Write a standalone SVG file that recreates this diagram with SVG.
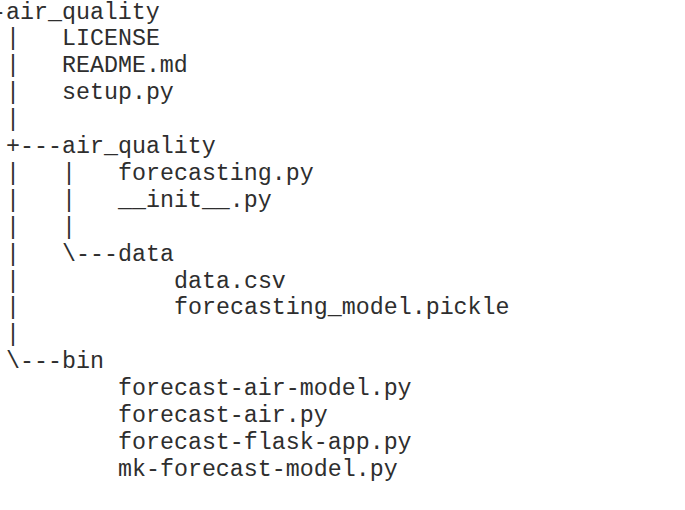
<svg xmlns="http://www.w3.org/2000/svg" width="685" height="510" viewBox="0 0 685 510">
  <style>
    text { font-family: "Liberation Mono", "Courier New", monospace; font-size: 23.3px; fill: #2e2e2e; white-space: pre; }
  </style>
  <rect width="685" height="510" fill="#ffffff"/>

  <!-- tree branches: pipes, tees and corners (column width 14px, column 0 at x=6) -->
  <g id="connectors">
    <text x="-8" y="18.5">-</text>
    <text x="6" y="45.4">|</text>
    <text x="6" y="72.3">|</text>
    <text x="6" y="99.2">|</text>
    <text x="6" y="126.1">|</text>
    <text x="6" y="153">+---</text>
    <text x="6" y="179.9">|</text>
    <text x="62" y="179.9">|</text>
    <text x="6" y="206.8">|</text>
    <text x="62" y="206.8">|</text>
    <text x="6" y="233.7">|</text>
    <text x="62" y="233.7">|</text>
    <text x="6" y="260.6">|</text>
    <text x="62" y="260.6">\---</text>
    <text x="6" y="287.5">|</text>
    <text x="6" y="314.4">|</text>
    <text x="6" y="341.3">|</text>
    <text x="6" y="368.2">\---</text>
  </g>

  <!-- project root -->
  <g id="root"><text x="6" y="18.5">air_quality</text></g>
  <g id="license"><text x="62" y="45.4">LICENSE</text></g>
  <g id="readme"><text x="62" y="72.3">README.md</text></g>
  <g id="setup"><text x="62" y="99.2">setup.py</text></g>

  <!-- package -->
  <g id="pkg"><text x="62" y="153">air_quality</text></g>
  <g id="forecasting"><text x="118" y="179.9">forecasting.py</text></g>
  <g id="init"><text x="118" y="206.8">__init__.py</text></g>
  <g id="data-dir"><text x="118" y="260.6">data</text></g>
  <g id="data-csv"><text x="174" y="287.5">data.csv</text></g>
  <g id="model-pickle"><text x="174" y="314.4">forecasting_model.pickle</text></g>

  <!-- scripts -->
  <g id="bin"><text x="62" y="368.2">bin</text></g>
  <g id="air-model"><text x="118" y="395.1">forecast-air-model.py</text></g>
  <g id="air"><text x="118" y="422">forecast-air.py</text></g>
  <g id="flask-app"><text x="118" y="448.9">forecast-flask-app.py</text></g>
  <g id="mk-model"><text x="118" y="475.8">mk-forecast-model.py</text></g>
</svg>
